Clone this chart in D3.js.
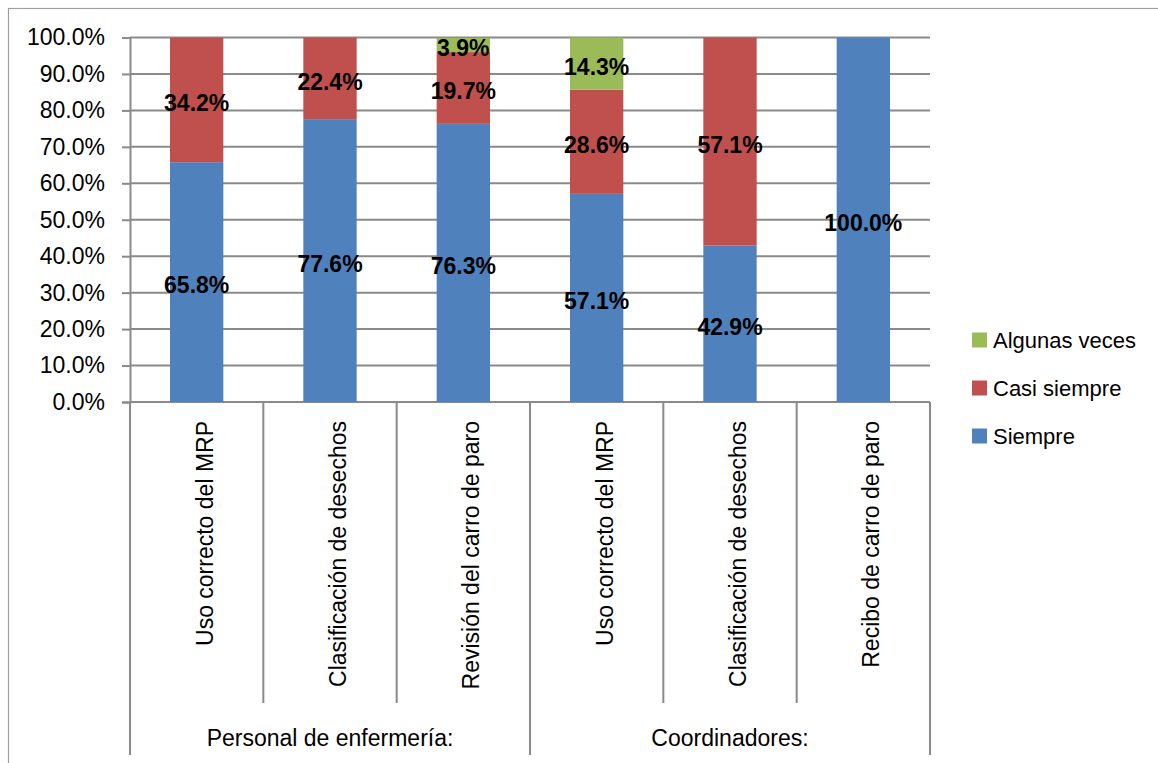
<!DOCTYPE html>
<html>
<head>
<meta charset="utf-8">
<script src="https://cdn.jsdelivr.net/npm/d3@7/dist/d3.min.js"></script>
<style>
  html, body { margin: 0; padding: 0; background: #fff; }
  svg { display: block; font-family: "Liberation Sans", Arial, sans-serif; }
</style>
</head>
<body>
<svg id="chart" width="1158" height="763"></svg>
<script>
// ---- Data ----
const categories = ["Uso correcto del MRP", "Clasificación de desechos", "Revisión del carro de paro",
                    "Uso correcto del MRP", "Clasificación de desechos", "Recibo de carro de paro"];
const groups = ["Personal de enfermería:", "Coordinadores:"];
const groupSizes = [3, 3];
const seriesNames = ["Siempre", "Casi siempre", "Algunas veces"];
const siempre = [65.8, 77.6, 76.3, 57.1, 42.9, 100.0];
const casiSiempre = [34.2, 22.4, 19.7, 28.6, 57.1, 0];
const algunasVeces = [0, 0, 3.9, 14.3, 0, 0];
const yTicks = [0, 10, 20, 30, 40, 50, 60, 70, 80, 90, 100];
const colors = ["#4F81BD", "#C0504D", "#9BBB59"];

// ---- Layout ----
const svg = d3.select("#chart");
const plot = { left: 130, right: 930, top: 37.5, bottom: 402 };
const gridColor = "#8a8a8a";

// frame
svg.append("rect").attr("x", 8.5).attr("y", 8.5).attr("width", 1200).attr("height", 800)
  .attr("fill", "none").attr("stroke", "#a0a0a0").attr("stroke-width", 1.2);

const idx = categories.map((d, i) => i);
const x = d3.scaleBand().domain(idx).range([plot.left, plot.right])
  .paddingInner(0.6).paddingOuter(0.3);
const step = x.step();
const y = d3.scaleLinear().domain([0, 100]).range([plot.bottom, plot.top]);

// gridlines
svg.append("g").selectAll("line").data(yTicks).join("line")
  .attr("x1", plot.left).attr("x2", plot.right)
  .attr("y1", d => y(d)).attr("y2", d => y(d))
  .attr("stroke", gridColor).attr("stroke-width", 2);

// y axis
const yAxis = d3.axisLeft(y).tickValues(yTicks).tickSize(8).tickPadding(17)
  .tickFormat(d => d.toFixed(1) + "%");
const yg = svg.append("g").attr("transform", `translate(${plot.left},0)`).call(yAxis);
yg.select(".domain").attr("stroke", gridColor).attr("stroke-width", 2);
yg.selectAll(".tick line").attr("stroke", gridColor).attr("stroke-width", 2);
yg.selectAll(".tick text").attr("font-size", 23).attr("fill", "#000")
  .attr("font-family", "Liberation Sans, Arial, sans-serif");

// stacked data
const table = idx.map(i => ({ i, s0: siempre[i], s1: casiSiempre[i], s2: algunasVeces[i] }));
const stack = d3.stack().keys(["s0", "s1", "s2"]);
const stacked = stack(table);

stacked.forEach((layer, k) => {
  svg.append("g").selectAll("rect").data(layer).join("rect")
    .attr("x", d => x(d.data.i))
    .attr("width", x.bandwidth())
    .attr("y", d => y(d[1]))
    .attr("height", d => y(d[0]) - y(d[1]))
    .attr("fill", colors[k]);
});

// data labels
stacked.forEach((layer, k) => {
  svg.append("g").selectAll("text").data(layer.filter(d => d[1] - d[0] > 0)).join("text")
    .attr("x", d => x(d.data.i) + x.bandwidth() / 2)
    .attr("y", d => y((d[0] + d[1]) / 2) + 3)
    .attr("dy", "0.36em")
    .attr("text-anchor", "middle")
    .attr("font-size", 23).attr("font-weight", "bold").attr("fill", "#000")
    .text(d => (d[1] - d[0]).toFixed(1) + "%");
});

// x axis: category dividers
const bounds = d3.range(categories.length + 1).map(i => plot.left + i * step);
svg.append("g").selectAll("line").data(bounds).join("line")
  .attr("x1", d => d).attr("x2", d => d)
  .attr("y1", plot.bottom).attr("y2", 703)
  .attr("stroke", gridColor).attr("stroke-width", 2);
// group dividers
const gBounds = [0];
groupSizes.forEach(s => gBounds.push(gBounds[gBounds.length - 1] + s));
svg.append("g").selectAll("line").data(gBounds).join("line")
  .attr("x1", d => plot.left + d * step).attr("x2", d => plot.left + d * step)
  .attr("y1", plot.bottom).attr("y2", 755)
  .attr("stroke", gridColor).attr("stroke-width", 2);

// category labels (rotated)
svg.append("g").selectAll("text").data(idx).join("text")
  .attr("transform", i => `translate(${x(i) + x.bandwidth() / 2 + 16},421) rotate(-90)`)
  .attr("text-anchor", "end")
  .attr("font-size", 23).attr("fill", "#000")
  .text(i => categories[i]);

// group labels
svg.append("g").selectAll("text").data(groups).join("text")
  .attr("x", (d, g) => plot.left + (gBounds[g] + gBounds[g + 1]) / 2 * step)
  .attr("y", 746)
  .attr("text-anchor", "middle")
  .attr("font-size", 23).attr("fill", "#000")
  .text(d => d);

// legend
const legendOrder = [2, 1, 0];
const lg = svg.append("g").selectAll("g").data(legendOrder).join("g")
  .attr("transform", (d, j) => `translate(972,${340 + j * 48})`);
lg.append("rect").attr("x", 0).attr("y", -7.5).attr("width", 15).attr("height", 15)
  .attr("fill", d => colors[d]);
lg.append("text").attr("x", 21).attr("y", 0).attr("dy", "0.36em")
  .attr("font-size", 22).attr("fill", "#000")
  .text(d => seriesNames[d]);
</script>
</body>
</html>
